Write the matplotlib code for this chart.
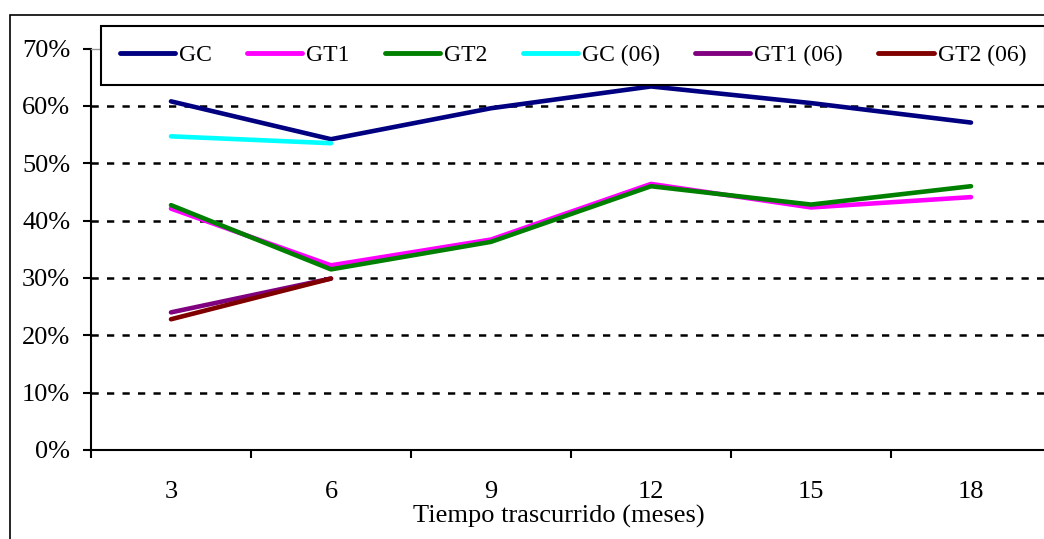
import matplotlib
matplotlib.use("Agg")
import matplotlib.pyplot as plt
from matplotlib.ticker import FuncFormatter, FixedLocator
from matplotlib.patches import Rectangle

months = ["3", "6", "9", "12", "15", "18"]
gc = [60.8, 54.2, 59.6, 63.4, 60.5, 57.1]
gt1 = [42.1, 32.2, 36.7, 46.4, 42.3, 44.1]
gt2 = [42.7, 31.5, 36.3, 46.0, 42.8, 46.0]
gc_06 = [54.7, 53.5]
gt1_06 = [24.0, 29.9]
gt2_06 = [22.8, 29.9]

series = [
    ("GC", gc, "#000080"),
    ("GT1", gt1, "#FF00FF"),
    ("GT2", gt2, "#008000"),
    ("GC (06)", gc_06, "#00FFFF"),
    ("GT1 (06)", gt1_06, "#800080"),
    ("GT2 (06)", gt2_06, "#800000"),
]

plt.rcParams["font.family"] = ["Liberation Serif", "DejaVu Serif"]
plt.rcParams["font.size"] = 19

W, H = 1044, 539
fig = plt.figure(figsize=(W / 100, H / 100), dpi=100)

# outer chart border (extends past the right/bottom edge like the source)
fig.patches.append(Rectangle((10 / W, -0.1), 1.2, 1 - 15 / H + 0.1, transform=fig.transFigure,
                             fill=False, edgecolor="black", linewidth=1.2))

ax = fig.add_axes([91 / W, (H - 450) / H, 960 / W, 401.4 / H])

for name, vals, color in series:
    xs = list(range(len(vals)))
    ax.plot(xs, [v / 100 for v in vals], color=color, linewidth=3.3,
            solid_capstyle="round", label=name)

ax.set_xlim(-0.5, len(months) - 0.5)
ax.set_ylim(0, 0.7)

ax.yaxis.set_major_locator(FixedLocator([i / 10 for i in range(8)]))
ax.yaxis.set_major_formatter(FuncFormatter(lambda v, p: f"{v * 100:.0f}%"))
ax.tick_params(axis="y", direction="out", length=6, width=1.5, pad=9, color="black")

# ticks at category boundaries, labels at centers
ax.xaxis.set_major_locator(FixedLocator([i - 0.5 for i in range(len(months) + 1)]))
ax.xaxis.set_major_formatter(FuncFormatter(lambda v, p: ""))
ax.xaxis.set_minor_locator(FixedLocator(range(len(months))))
ax.set_xticklabels(months, minor=True)
ax.tick_params(axis="x", which="major", direction="out", length=6, width=1.5)
ax.tick_params(axis="x", which="minor", length=0, pad=22)

for y in range(1, 7):
    ax.axhline(y / 10, color="black", linewidth=1.8, linestyle=(0, (2.9, 3.3)), zorder=0.5)

for side in ["left", "bottom"]:
    ax.spines[side].set_linewidth(1.5)
ax.spines["right"].set_visible(False)
ax.spines["top"].set_color("#999999")
ax.spines["top"].set_linewidth(1.0)

ax.set_xlabel("Tiempo trascurrido (meses)")
ax.xaxis.set_label_coords(0.4875, -0.138)

leg = ax.legend(ncol=6, loc="upper left", bbox_to_anchor=(101 / W, 1 - 26 / H),
                bbox_transform=fig.transFigure, borderaxespad=0, frameon=True,
                fancybox=False, framealpha=1, edgecolor="black",
                prop={"size": 17},
                handlelength=2.33, handletextpad=0.17, columnspacing=1.5,
                borderpad=0.8)
leg.get_frame().set_linewidth(1.5)
for h in leg.get_lines():
    h.set_linewidth(3.5)
    h.set_solid_capstyle("round")

fig.savefig("out.png", dpi=100)
